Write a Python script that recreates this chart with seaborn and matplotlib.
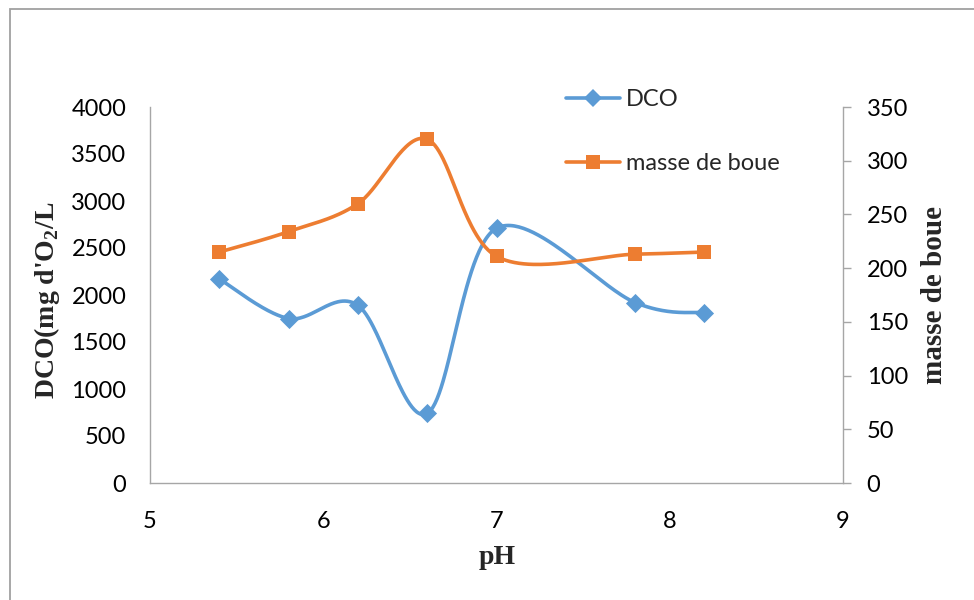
import numpy as np
import matplotlib
matplotlib.use("Agg")
import matplotlib.pyplot as plt
from matplotlib.lines import Line2D
from matplotlib.patches import Rectangle
import seaborn as sns
import pandas as pd

# pH values and measured responses
ph = [5.4, 5.8, 6.2, 6.6, 7.0, 7.8, 8.2]
dco = [2170, 1750, 1890, 740, 2710, 1920, 1810]
masse_boue = [215, 234, 260, 320, 211, 213, 215]

x_ticks = [5, 6, 7, 8, 9]
left_ticks = [0, 500, 1000, 1500, 2000, 2500, 3000, 3500, 4000]
right_ticks = [0, 50, 100, 150, 200, 250, 300, 350]

blue = "#5B9BD5"
orange = "#ED7D31"
axis_grey = "#A6A6A6"

sns.set_theme(style="white")
plt.rcParams["font.family"] = ["Lato", "DejaVu Sans"]
plt.rcParams["mathtext.fontset"] = "custom"
plt.rcParams["mathtext.rm"] = "Liberation Serif"
plt.rcParams["mathtext.bf"] = "Liberation Serif:bold"

W, H = 974, 600
fig = plt.figure(figsize=(W / 100, H / 100), dpi=100)
fig.patch.set_facecolor("white")

left, right, top, bottom = 150, 843, 107, 483
ax = fig.add_axes([left / W, 1 - bottom / H, (right - left) / W, (bottom - top) / H])
ax2 = ax.twinx()

ax.set_xlim(5, 9)
ax.set_ylim(0, 4000)
ax2.set_ylim(0, 350)

df = pd.DataFrame({"pH": ph, "DCO": dco, "masse": masse_boue})


def smooth_curve(axis, xs, ys, n=60):
    """Bezier smoothing (Catmull-Rom style) computed in display space."""
    pts = axis.transData.transform(np.column_stack([xs, ys]))
    out = []
    k = len(pts)
    for i in range(k - 1):
        p0 = pts[i - 1] if i > 0 else pts[i]
        p1 = pts[i]
        p2 = pts[i + 1]
        p3 = pts[i + 2] if i + 2 < k else pts[i + 1]
        c1 = p1 + (p2 - p0) / 6.0
        c2 = p2 - (p3 - p1) / 6.0
        t = np.linspace(0, 1, n)[:, None]
        seg = ((1 - t) ** 3) * p1 + 3 * ((1 - t) ** 2) * t * c1 + 3 * (1 - t) * t ** 2 * c2 + t ** 3 * p2
        out.append(seg if i == 0 else seg[1:])
    path = np.vstack(out)
    data = axis.transData.inverted().transform(path)
    return data[:, 0], data[:, 1]


lw = 2.6
sx, sy = smooth_curve(ax, df["pH"], df["DCO"])
ax.plot(sx, sy, color=blue, lw=lw, solid_capstyle="round", zorder=3)
sns.scatterplot(data=df, x="pH", y="DCO", ax=ax, marker="D", s=95, color=blue,
                edgecolor=blue, linewidth=0, zorder=4, legend=False)

sx2, sy2 = smooth_curve(ax2, df["pH"], df["masse"])
ax2.plot(sx2, sy2, color=orange, lw=lw, solid_capstyle="round", zorder=3)
sns.scatterplot(data=df, x="pH", y="masse", ax=ax2, marker="s", s=115, color=orange,
                edgecolor=orange, linewidth=0, zorder=4, legend=False)

# axes styling
for a in (ax, ax2):
    for s in a.spines.values():
        s.set_visible(False)
ax.spines["left"].set_visible(True)
ax.spines["bottom"].set_visible(True)
ax2.spines["right"].set_visible(True)
for s in (ax.spines["left"], ax.spines["bottom"], ax2.spines["right"]):
    s.set_color(axis_grey)
    s.set_linewidth(1.0)

tick_fs = 17
ax.set_xticks(x_ticks)
ax.set_yticks(left_ticks)
ax2.set_yticks(right_ticks)
ax.tick_params(axis="x", length=0, pad=20, labelsize=tick_fs, colors="black")
ax.tick_params(axis="y", length=0, pad=17, labelsize=tick_fs, colors="black")
ax2.tick_params(axis="y", length=6, width=1, color=axis_grey, direction="out", pad=11,
                labelsize=tick_fs, labelcolor="black", right=True)
ax.set_xlabel("")
ax.set_ylabel("")
ax2.set_ylabel("")

label_font = dict(family="Liberation Serif", weight="bold", size=20)
fig.text(497 / W, 1 - 557 / H, "pH", ha="center", va="center", **label_font)
fig.text(47 / W, 1 - 300 / H, r"DCO(mg d'O$_{\mathbf{2}}$/L", ha="center", va="center",
         rotation=90, **label_font)
fig.text(935 / W, 1 - 295 / H, "masse de boue", ha="center", va="center",
         rotation=90, family="Liberation Serif", weight="bold", size=21)

handles = [
    Line2D([], [], color=blue, lw=lw, marker="D", markersize=9, markeredgewidth=0),
    Line2D([], [], color=orange, lw=lw, marker="s", markersize=10.5, markeredgewidth=0),
]
fig.legend(handles, ["DCO", "masse de boue"], loc="upper left",
           bbox_to_anchor=(566 / W, 1 - 89 / H), frameon=False, fontsize=tick_fs,
           handlelength=2.3, handletextpad=0.25, labelspacing=1.83, borderpad=0,
           borderaxespad=0)

# outer chart border
fig.patches.append(Rectangle((9.5 / W, -0.05), 1.1, 1 - 9 / H + 0.05, transform=fig.transFigure,
                             fill=False, edgecolor="#A0A0A0", lw=1.3))

fig.savefig("out.png", dpi=100)
